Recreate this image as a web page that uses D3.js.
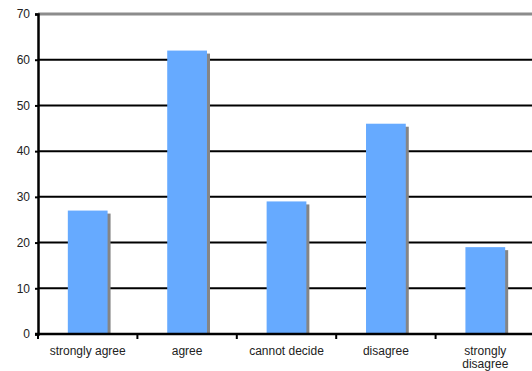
<!DOCTYPE html>
<html><head><meta charset="utf-8">
<script src="https://cdn.jsdelivr.net/npm/d3@7"></script>
<style>body{margin:0;background:#fff}svg{display:block}</style>
</head><body>
<svg id="c" width="532" height="371"></svg>
<script>
const categories = ["strongly agree","agree","cannot decide","disagree","strongly disagree"];
const values = [27, 62, 29, 46, 19];
const yTicks = [0,10,20,30,40,50,60,70];

const svg = d3.select("#c");
const x0 = 38, x1 = 535, yTop = 14, yBot = 334;
const x = d3.scaleBand().domain(categories).range([x0, x1]).paddingInner(0.6).paddingOuter(0.3);
const y = d3.scaleLinear().domain([0,70]).range([yBot, yTop]);
const bandAll = d3.scaleBand().domain(categories).range([x0, x1]);

// gridlines
svg.append("g").selectAll("line").data(yTicks.filter(t => t > 0 && t < 70)).join("line")
  .attr("x1", x0).attr("x2", 532).attr("y1", d => y(d)).attr("y2", d => y(d))
  .attr("stroke", "#000").attr("stroke-width", 2);
svg.append("line").attr("x1", x0).attr("x2", 532).attr("y1", y(70)).attr("y2", y(70))
  .attr("stroke", "#8c8c8c").attr("stroke-width", 3);

// bar shadows
svg.append("g").selectAll("rect").data(values).join("rect")
  .attr("x", (d,i) => x(categories[i]) + 3)
  .attr("y", d => y(d) + 3)
  .attr("width", x.bandwidth())
  .attr("height", d => yBot - y(d) - 3)
  .attr("fill", "#858585");
// bars
svg.append("g").selectAll("rect").data(values).join("rect")
  .attr("x", (d,i) => x(categories[i]))
  .attr("y", d => y(d))
  .attr("width", x.bandwidth())
  .attr("height", d => yBot - y(d))
  .attr("fill", "#66aaff");

// y axis
const yAx = svg.append("g").attr("transform", `translate(${x0},0)`)
  .call(d3.axisLeft(y).tickValues(yTicks).tickSize(3).tickPadding(5));
yAx.select(".domain").attr("stroke", "#000").attr("stroke-width", 2.5);
yAx.selectAll(".tick line").attr("stroke", "#000").attr("stroke-width", 2);
yAx.selectAll("text").attr("font-family", "Liberation Sans, Arial, sans-serif").attr("font-size", 12).attr("fill", "#222");

// x axis
const xAx = svg.append("g").attr("transform", `translate(0,${yBot})`);
xAx.append("line").attr("x1", x0 - 3).attr("x2", 532).attr("y1", 0).attr("y2", 0)
  .attr("stroke", "#000").attr("stroke-width", 2.5);
xAx.selectAll("line.tk").data(categories).join("line").attr("class","tk")
  .attr("x1", d => bandAll(d)).attr("x2", d => bandAll(d)).attr("y1", 0).attr("y2", 5)
  .attr("stroke", "#000").attr("stroke-width", 2);
const lbl = xAx.selectAll("text").data(categories).join("text")
  .attr("x", d => bandAll(d) + bandAll.bandwidth()/2)
  .attr("y", 21)
  .attr("text-anchor", "middle")
  .attr("font-family", "Liberation Sans, Arial, sans-serif").attr("font-size", 12).attr("fill", "#222");
lbl.each(function(d){
  const t = d3.select(this);
  if (d === "strongly disagree") {
    t.append("tspan").attr("x", bandAll(d) + bandAll.bandwidth()/2).text("strongly");
    t.append("tspan").attr("x", bandAll(d) + bandAll.bandwidth()/2).attr("dy", 12.5).text("disagree");
  } else t.text(d);
});
</script>
</body></html>
